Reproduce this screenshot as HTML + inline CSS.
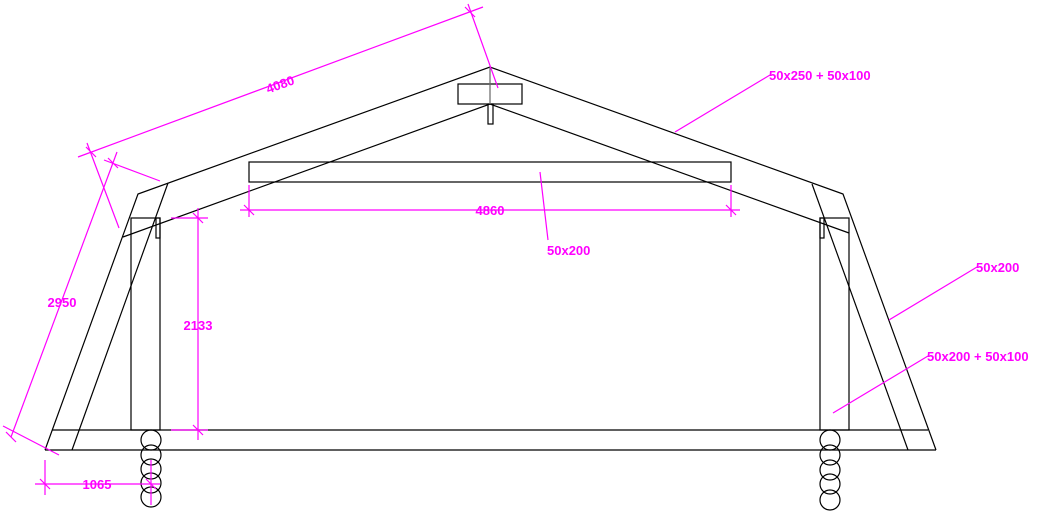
<!DOCTYPE html>
<html><head><meta charset="utf-8"><style>
html,body{margin:0;padding:0;background:#fff;}
svg{display:block}
text{font-family:"Liberation Sans",Arial,sans-serif;font-weight:bold;font-size:13px;fill:#ff00ff}
</style></head><body>
<svg width="1043" height="516" viewBox="0 0 1043 516" xmlns="http://www.w3.org/2000/svg">
<g stroke="#000" stroke-width="1.2" fill="none">
<!-- roof outer -->
<polyline points="45,450 138,194 490,67 843,194 936,450"/>
<!-- inner roof line -->
<polyline points="123,237 490,104 849,233"/>
<!-- inner rafters -->
<line x1="168" y1="183" x2="72" y2="450"/>
<line x1="812" y1="184" x2="908" y2="450"/>
<!-- floor beam -->
<line x1="52" y1="430" x2="928" y2="430"/>
<line x1="45" y1="450" x2="936" y2="450"/>
<!-- posts -->
<rect x="131" y="218" width="29" height="212"/>
<rect x="156" y="218" width="4" height="20"/>
<rect x="820" y="218" width="29" height="212"/>
<rect x="820" y="218" width="4" height="20"/>
<!-- ridge -->
<rect x="458" y="84" width="64" height="20"/>
<rect x="488" y="104" width="5" height="20"/>
<!-- collar -->
<rect x="249" y="162" width="482" height="20"/>
<!-- logs -->
<circle cx="151" cy="440" r="10"/><circle cx="151" cy="455" r="10"/><circle cx="151" cy="469" r="10"/><circle cx="151" cy="483" r="10"/><circle cx="151" cy="497" r="10"/>
<circle cx="830" cy="440" r="10"/><circle cx="830" cy="455" r="10"/><circle cx="830" cy="470" r="10"/><circle cx="830" cy="484" r="10"/><circle cx="830" cy="500" r="10"/>
</g>
<line x1="490" y1="67" x2="490" y2="104" stroke="#666" stroke-width="1.2"/>
<g stroke="#ff00ff" stroke-width="1.2" fill="none">
<!-- 4080 -->
<line x1="78" y1="157" x2="483" y2="7"/>
<line x1="468" y1="4" x2="498" y2="88"/>
<line x1="87" y1="143" x2="119" y2="228"/>
<line x1="86" y1="147" x2="96" y2="157"/><line x1="465" y1="7" x2="475" y2="17"/>
<!-- 2950 -->
<line x1="11" y1="437" x2="117" y2="152"/>
<line x1="104" y1="160" x2="160" y2="181"/>
<line x1="3" y1="426" x2="59" y2="455"/>
<line x1="6" y1="432" x2="16" y2="442"/><line x1="108" y1="158" x2="118" y2="168"/>
<!-- 2133 -->
<line x1="198" y1="208" x2="198" y2="440"/>
<line x1="171" y1="218" x2="208" y2="218"/>
<line x1="171" y1="430" x2="208" y2="430"/>
<line x1="193" y1="213" x2="203" y2="223"/><line x1="193" y1="425" x2="203" y2="435"/>
<!-- 1065 -->
<line x1="35" y1="484" x2="160" y2="484"/>
<line x1="45" y1="460" x2="45" y2="495"/>
<line x1="151" y1="460" x2="151" y2="505"/>
<line x1="40" y1="479" x2="50" y2="489"/><line x1="146" y1="479" x2="156" y2="489"/>
<!-- 4860 -->
<line x1="240" y1="210" x2="740" y2="210"/>
<line x1="249" y1="185" x2="249" y2="217"/>
<line x1="731" y1="185" x2="731" y2="217"/>
<line x1="244" y1="205" x2="254" y2="215"/><line x1="726" y1="205" x2="736" y2="215"/>
<!-- leaders -->
<line x1="540" y1="172" x2="548" y2="240"/>
<line x1="675" y1="132" x2="770" y2="75"/>
<line x1="889" y1="320" x2="977" y2="267"/>
<line x1="833" y1="413" x2="928" y2="356"/>
</g>
<text x="280" y="89" text-anchor="middle" transform="rotate(-20 280 84)">4080</text>
<text x="62" y="307" text-anchor="middle">2950</text>
<text x="198" y="330" text-anchor="middle">2133</text>
<text x="97" y="489" text-anchor="middle">1065</text>
<text x="490" y="215" text-anchor="middle">4860</text>
<text x="547" y="255">50x200</text>
<text x="769" y="80">50x250 + 50x100</text>
<text x="976" y="272">50x200</text>
<text x="927" y="361">50x200 + 50x100</text>
</svg>
</body></html>
